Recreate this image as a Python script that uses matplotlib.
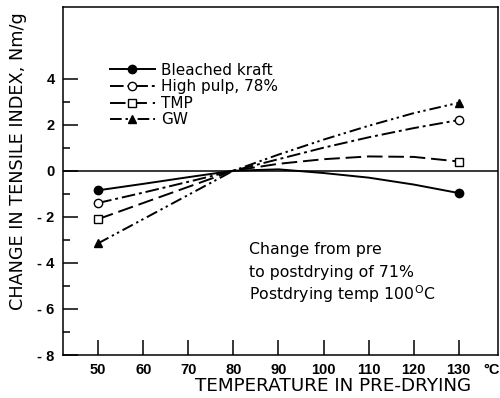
import matplotlib
matplotlib.use("Agg")
from matplotlib import pyplot as plt
from matplotlib.legend_handler import HandlerLine2D
from matplotlib.ticker import FixedLocator, FixedFormatter

plt.rcParams["font.family"] = ["DejaVu Sans"]
TICKFONT = ["Liberation Sans Narrow", "Liberation Sans", "DejaVu Sans"]

temps = [50, 60, 70, 80, 90, 100, 110, 120, 130]
kraft = [-0.85, -0.57, -0.28, 0.0, 0.06, -0.1, -0.3, -0.6, -0.97]
high_pulp = [-1.4, -0.95, -0.48, 0.0, 0.5, 1.0, 1.45, 1.85, 2.2]
tmp = [-2.1, -1.4, -0.7, 0.0, 0.3, 0.5, 0.62, 0.6, 0.4]
gw = [-3.15, -2.1, -1.05, 0.0, 0.7, 1.35, 1.95, 2.5, 2.95]

series = [
    ("Bleached kraft", kraft, "-", "o", "black"),
    ("High pulp, 78%", high_pulp, (0, (7, 2, 1.5, 2)), "o", "white"),
    ("TMP", tmp, (0, (8, 3)), "s", "white"),
    ("GW", gw, (0, (6, 2, 1.2, 1.8, 1.2, 2)), "^", "black"),
]

xticks = [50, 60, 70, 80, 90, 100, 110, 120, 130]
yticks = [-8, -6, -4, -2, 0, 2, 4]
ylabels = ["- 8", "- 6", "- 4", "- 2", "0", "2", "4"]
yminor = [-7, -5, -3, -1, 1, 3]
note = ["Change from pre", "to postdrying of 71%", "Postdrying temp 100$^{\\mathrm{O}}$C"]


class LeftMarker(HandlerLine2D):
    # put the marker at the left end of the legend line
    def get_xdata(self, legend, xdescent, ydescent, width, height, fontsize):
        xdata, _ = super().get_xdata(legend, xdescent, ydescent, width, height, fontsize)
        return xdata, [xdata[0]]


fig = plt.figure(figsize=(5, 3.98), dpi=100)
ax = fig.add_axes([0.126, 0.108, 0.87, 0.874])

handles = []
for name, vals, ls, mk, fc in series:
    (ln,) = ax.plot(temps, vals, color="black", lw=1.4, linestyle=ls,
                    marker=mk, markersize=6, markerfacecolor=fc,
                    markeredgecolor="black", markevery=[0, len(temps) - 1],
                    label=name)
    handles.append(ln)

ax.axhline(0, color="black", lw=1.1)

ax.set_xlim(42.2, 138.7)
ax.set_ylim(-8, 7.1)

ax.xaxis.set_major_locator(FixedLocator(xticks))
ax.yaxis.set_major_locator(FixedLocator(yticks))
ax.yaxis.set_major_formatter(FixedFormatter(ylabels))
ax.yaxis.set_minor_locator(FixedLocator(yminor))
ax.tick_params(axis="both", which="major", direction="in", length=11, width=1.1,
               labelsize=10.5)
ax.tick_params(axis="y", which="minor", direction="in", length=5, width=1.1)
ax.tick_params(axis="x", pad=6)
ax.tick_params(axis="y", pad=6)
for lab in ax.get_xticklabels() + ax.get_yticklabels():
    lab.set_fontweight("bold")
    lab.set_family(TICKFONT)

for sp in ax.spines.values():
    sp.set_linewidth(1.1)

ax.text(135.4, -0.022, "°C", transform=ax.get_xaxis_transform(),
        ha="left", va="top", fontsize=10.5, fontweight="bold", family=TICKFONT)

ax.set_ylabel("CHANGE IN TENSILE INDEX, Nm/g", fontsize=12.7)
ax.yaxis.set_label_coords(-0.083, 0.557)
ax.set_xlabel("TEMPERATURE IN PRE-DRYING", fontsize=13.2)
ax.xaxis.set_label_coords(0.62, -0.062)

for i, line in enumerate(note):
    ax.text(83.5, -3.43 - 0.97 * i, line, fontsize=11.3, ha="left", va="center")

ax.legend(handles=handles, loc="upper left", bbox_to_anchor=(0.091, 0.862),
          frameon=False, borderpad=0, handlelength=2.9, handletextpad=0.45,
          labelspacing=0.1, fontsize=11,
          handler_map={h: LeftMarker(numpoints=1) for h in handles})

plt.savefig("out.png", dpi=100)
